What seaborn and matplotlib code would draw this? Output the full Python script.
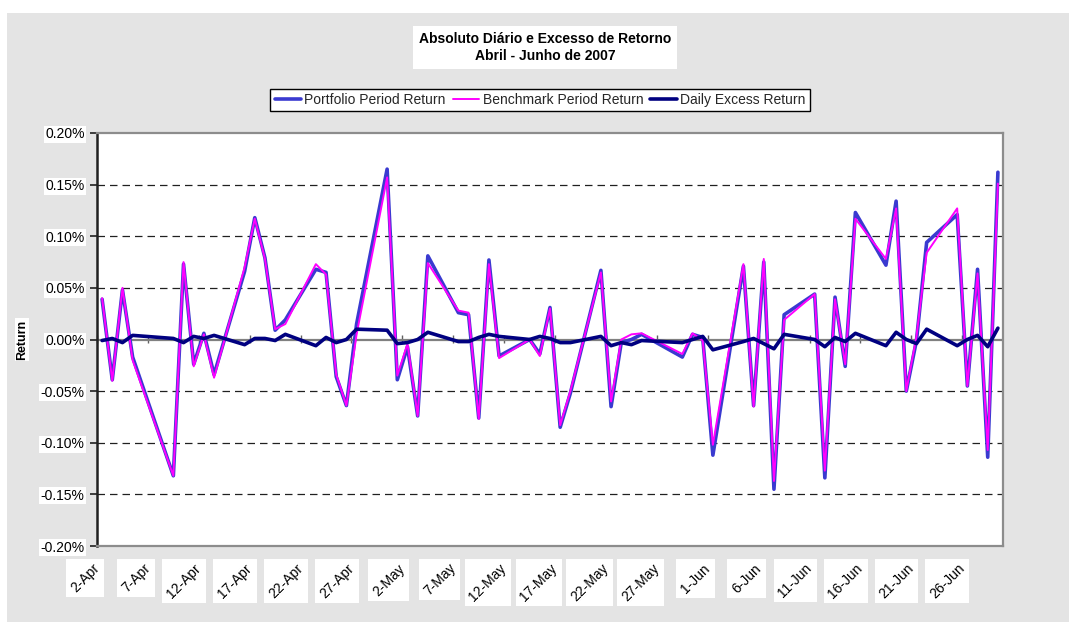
import numpy as np
import pandas as pd
import matplotlib
matplotlib.use("Agg")
import matplotlib.pyplot as plt
import matplotlib.dates as mdates
from matplotlib.patches import Rectangle
from matplotlib.ticker import FuncFormatter
import seaborn as sns

# ---------------- data ----------------
apr_days = [2, 3, 4, 5, 9, 10, 11, 12, 13, 16, 17, 18, 19, 20, 23, 24, 25, 26, 27, 30]
may_days = [1, 2, 3, 4, 7, 8, 9, 10, 11, 14, 15, 16, 17, 18, 21, 22, 23, 24, 25, 29, 30, 31]
jun_days = [1, 4, 5, 6, 7, 8, 11, 12, 13, 14, 15, 18, 19, 20, 21, 22, 25, 26, 27, 28, 29]

portfolio = [
    0.039, -0.039, 0.048, -0.017, -0.132, 0.073, -0.024, 0.006, -0.034, 0.066,
    0.118, 0.079, 0.009, 0.019, 0.068, 0.065, -0.036, -0.064, 0.015, 0.165,
    -0.039, -0.007, -0.074, 0.081, 0.026, 0.024, -0.076, 0.077, -0.016, 0.000,
    -0.014, 0.031, -0.085, -0.052, 0.067, -0.065, -0.003, 0.000, 0.005, -0.017,
    0.005, 0.002,
    -0.112, 0.071, -0.064, 0.075, -0.145, 0.024, 0.044, -0.134, 0.041, -0.026,
    0.123, 0.072, 0.134, -0.050, -0.001, 0.094, 0.121, -0.045, 0.068, -0.114,
    0.162,
]
benchmark = [
    0.040, -0.040, 0.050, -0.020, -0.132, 0.075, -0.026, 0.005, -0.037, 0.070,
    0.117, 0.078, 0.010, 0.015, 0.073, 0.063, -0.034, -0.064, 0.005, 0.157,
    -0.035, -0.004, -0.074, 0.074, 0.028, 0.026, -0.077, 0.073, -0.018, 0.000,
    -0.016, 0.030, -0.083, -0.050, 0.065, -0.060, 0.000, 0.005, 0.006, -0.014,
    0.006, -0.001,
    -0.102, 0.073, -0.065, 0.078, -0.137, 0.019, 0.044, -0.127, 0.039, -0.024,
    0.117, 0.078, 0.127, -0.050, 0.003, 0.084, 0.127, -0.045, 0.064, -0.107,
    0.151,
]
excess = [
    -0.001, 0.001, -0.003, 0.004, 0.001, -0.003, 0.003, 0.001, 0.004, -0.005,
    0.001, 0.001, -0.001, 0.005, -0.006, 0.002, -0.003, 0.000, 0.010, 0.009,
    -0.004, -0.003, 0.000, 0.007, -0.002, -0.002, 0.002, 0.005, 0.003, 0.000,
    0.003, 0.001, -0.003, -0.003, 0.003, -0.006, -0.003, -0.005, -0.001, -0.003,
    0.000, 0.003,
    -0.010, -0.002, 0.001, -0.004, -0.009, 0.005, 0.000, -0.007, 0.002, -0.002,
    0.006, -0.006, 0.007, 0.000, -0.004, 0.010, -0.006, 0.000, 0.004, -0.007,
    0.011,
]
series_names = ["Portfolio Period Return", "Benchmark Period Return", "Daily Excess Return"]
y_ticks = [-0.20, -0.15, -0.10, -0.05, 0.00, 0.05, 0.10, 0.15, 0.20]
title_text = "Absoluto Diário e Excesso de Retorno\nAbril - Junho de 2007"

dates = ([pd.Timestamp(2007, 4, d) for d in apr_days]
         + [pd.Timestamp(2007, 5, d) for d in may_days]
         + [pd.Timestamp(2007, 6, d) for d in jun_days])

df = pd.DataFrame({"date": dates,
                   series_names[0]: portfolio,
                   series_names[1]: benchmark,
                   series_names[2]: excess})

# ---------------- style ----------------
sns.set_theme(style="white")
plt.rcParams["font.family"] = ["Liberation Sans", "DejaVu Sans"]

W, H = 1069, 622
fig = plt.figure(figsize=(W / 100, H / 100), dpi=100, facecolor="#e4e4e4")
fig.patches.append(Rectangle((0, 1 - 13 / H), 1, 13 / H, transform=fig.transFigure,
                             facecolor="white", edgecolor="none", zorder=0))
fig.patches.append(Rectangle((0, 0), 7 / W, 1, transform=fig.transFigure,
                             facecolor="white", edgecolor="none", zorder=0))

L, R, T, B = 97, 1003, 133, 546
ax = fig.add_axes([L / W, 1 - B / H, (R - L) / W, (B - T) / H])
ax.set_facecolor("white")

colors = ["#3a3ad0", "#ff00ff", "#000080"]
widths = [2.6, 1.4, 2.6]
for name, c, lw in zip(series_names, colors, widths):
    sns.lineplot(data=df, x="date", y=name, ax=ax, color=c, linewidth=lw,
                 label=name, zorder=3, legend=False)

# axes limits
x0 = dates[0] - pd.Timedelta(hours=12)
x1 = dates[-1] + pd.Timedelta(hours=12)
ax.set_xlim(x0, x1)
ax.set_ylim(-0.20, 0.20)

# y axis
ax.set_yticks(y_ticks)
ax.yaxis.set_major_formatter(FuncFormatter(lambda v, p: f"{v:.2f}%"))
ax.tick_params(axis="y", which="major", left=True, length=5, width=1.2,
               color="#202020", direction="out", labelsize=10, pad=4,
               labelcolor="black")
for lab in ax.get_yticklabels():
    lab.set_bbox(dict(facecolor="white", edgecolor="none", pad=1))
ax.set_ylabel("Return", fontsize=9, fontweight="bold", color="black",
              bbox=dict(facecolor="white", edgecolor="none", pad=1))
ax.yaxis.set_label_coords(-(L - 28) / (R - L), 0.5)

# gridlines (dashed), zero axis line
for v in y_ticks:
    if abs(v) > 1e-9 and abs(v) < 0.2 - 1e-9:
        ax.axhline(v, color="#202020", linewidth=0.9, linestyle=(0, (6, 4)), zorder=1)
ax.axhline(0, color="#808080", linewidth=1.6, zorder=2)

# x axis labels
xt = pd.date_range(dates[0], dates[-1], freq="5D")
ax.set_xticks(xt)
ax.xaxis.set_major_formatter(mdates.DateFormatter("%-d-%b"))
ax.tick_params(axis="x", which="major", bottom=False, length=0, labelsize=10, pad=11,
               labelcolor="black")
for lab in ax.get_xticklabels():
    lab.set_rotation(45)
    lab.set_ha("right")
ax.set_xlabel("")

# tick marks on the zero line at slot boundaries
sec = ax.secondary_xaxis(0.5)
sec.set_xticks(pd.date_range(x0, x1, freq="5D"))
sec.set_xticklabels([])
sec.tick_params(direction="inout", length=6, width=1, color="#606060")
sec.spines["bottom"].set_visible(False)
sec.spines["top"].set_visible(False)

# frame
for s in ["top", "right", "bottom"]:
    ax.spines[s].set_visible(True)
    ax.spines[s].set_color("#8c8c8c")
    ax.spines[s].set_linewidth(1.6)
ax.spines["left"].set_visible(True)
ax.spines["left"].set_color("#202020")
ax.spines["left"].set_linewidth(1.8)

# title
fig.text(545 / W, 1 - 47.5 / H, title_text, ha="center", va="center",
         fontsize=10, fontweight="bold", color="black", linespacing=1.35,
         bbox=dict(facecolor="white", edgecolor="none", pad=4))

# legend
handles, labels = ax.get_legend_handles_labels()
leg = fig.legend(handles, labels, loc="center", bbox_to_anchor=(540 / W, 1 - 100 / H),
                 ncol=3, frameon=True, fancybox=False, fontsize=10,
                 handlelength=1.9, handletextpad=0.25, columnspacing=0.5,
                 borderpad=0.3, borderaxespad=0)
leg.get_frame().set_edgecolor("black")
leg.get_frame().set_linewidth(1.0)
leg.get_frame().set_facecolor("white")
leg.get_frame().set_alpha(1)

# axis-aligned white boxes behind the rotated date labels
fig.canvas.draw()
renderer = fig.canvas.get_renderer()
inv = fig.transFigure.inverted()
for lab in ax.get_xticklabels():
    bb = lab.get_window_extent(renderer).expanded(1.0, 1.0)
    (fx0, fy0), (fx1, fy1) = inv.transform([(bb.x0 - 2, bb.y0 - 2), (bb.x1 + 2, bb.y1 + 2)])
    fig.patches.append(Rectangle((fx0, fy0), fx1 - fx0, fy1 - fy0, transform=fig.transFigure,
                                 facecolor="white", edgecolor="none", zorder=-1))

fig.savefig("out.png", dpi=100, facecolor=fig.get_facecolor())
